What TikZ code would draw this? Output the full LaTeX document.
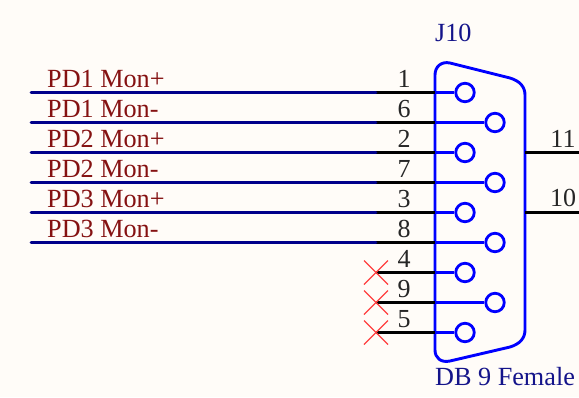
\documentclass[tikz,border=0pt]{standalone}
\usepackage{fontspec}
\setmainfont{Liberation Serif}
\definecolor{paper}{HTML}{FFFCF8}
\definecolor{netred}{HTML}{851212}
\definecolor{refblue}{HTML}{14148A}
\definecolor{pinblue}{HTML}{0000FF}
\definecolor{wireblue}{HTML}{00008B}
\definecolor{noerc}{HTML}{FF4040}
\tikzset{
  px/.style={x=1pt,y=-1pt},
  socket/.style={circle,draw=pinblue,line width=2.8pt,minimum size=18.5pt,inner sep=0pt},
  stub/.style={draw=pinblue,line width=2.2pt},
  wire/.style={draw=wireblue,line width=2.9pt,line cap=round},
  pinline/.style={draw=black,line width=2.9pt},
  shell/.style={draw=pinblue,line width=2.9pt},
  pinnum/.style={font=\fontsize{26pt}{26pt}\selectfont,text=black!85,inner sep=0pt,anchor=base},
  netlabel/.style={font=\fontsize{26.2pt}{26pt}\selectfont,text=netred,inner sep=0pt,anchor=base west},
  reflabel/.style={font=\fontsize{26.2pt}{26pt}\selectfont,text=refblue,inner sep=0pt,anchor=base west},
  noconn/.style={draw=noerc,line width=1.2pt},
}
\begin{document}
\begin{tikzpicture}[px]
\useasboundingbox[fill=paper] (0,0) rectangle (579,397);
% connector shell
\draw[shell] (435,75) .. controls (435,67) and (441,61) .. (450,63)
  -- (510,78) .. controls (520,81) and (525,87) .. (525,95)
  -- (525,330) .. controls (525,338) and (520,344) .. (510,347)
  -- (450,361) .. controls (441,363) and (435,358) .. (435,350) -- cycle;
% pins: name / y / socket x / number
\foreach \n/\y/\sx in {1/92.5/465,6/122.5/495,2/152.5/465,7/182.5/495,3/212.5/465,8/242.5/495,4/272.5/465,9/302.5/495,5/332.5/465}{
  \node[socket] (s\n) at (\sx,\y) {};
  \coordinate (b\n) at (435,\y);
  \coordinate (m\n) at (376,\y);
  \draw[pinline] (m\n) -- (b\n);
  \draw[stub] (b\n) -- (s\n);
  \node[pinnum] (num\n) at (404,\y-5.5) {\n};
}
% nets
\foreach \n/\y/\t in {1/92.5/PD1 Mon+,6/122.5/PD1 Mon-,2/152.5/PD2 Mon+,7/182.5/PD2 Mon-,3/212.5/PD3 Mon+,8/242.5/PD3 Mon-}{
  \coordinate (w\n) at (31,\y);
  \draw[wire] (w\n) -- (m\n);
  \node[netlabel] (net\n) at (47,\y-5.5) {\t};
}
% no-connect crosses
\foreach \n in {4,9,5}{
  \draw[noconn] ([shift={(-12,-12)}]m\n) -- ([shift={(12,12)}]m\n);
  \draw[noconn] ([shift={(-12,12)}]m\n) -- ([shift={(12,-12)}]m\n);
}
% right pins
\coordinate (r11) at (525,152.5);
\coordinate (e11) at (579,152.5);
\coordinate (r10) at (525,212.5);
\coordinate (e10) at (579,212.5);
\draw[pinline] (r11) -- (e11);
\draw[pinline] (r10) -- (e10);
\node[pinnum] (num11) at (563,147) {11};
\node[pinnum] (num10) at (563,206.5) {10};
% labels
\node[reflabel] (ref) at (435,41.5) {J10};
\node[reflabel] (val) at (435,385) {DB 9 Female};
\end{tikzpicture}
\end{document}
